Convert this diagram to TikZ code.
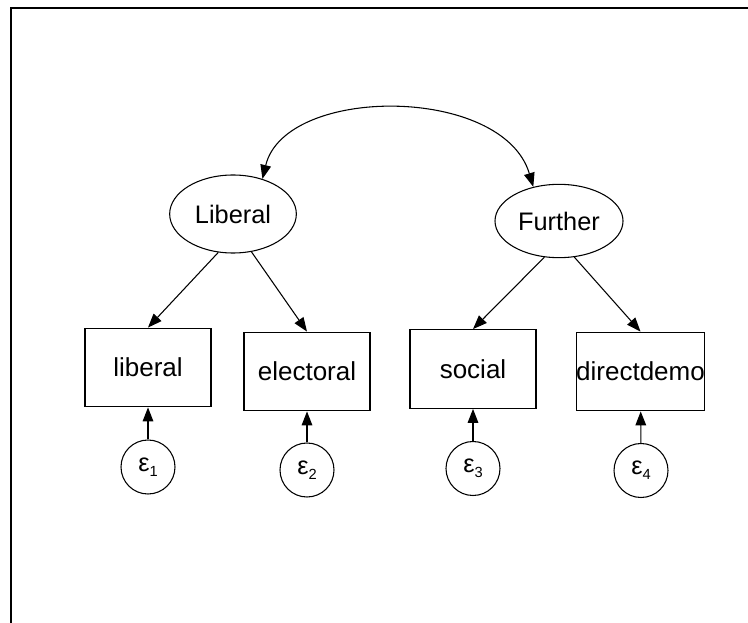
\documentclass[tikz,border=0pt]{standalone}
\usepackage{fontspec}
\setmainfont{Liberation Sans}
\usetikzlibrary{arrows.meta,shapes.geometric}

\tikzset{
  latent/.style={draw, ellipse, line width=0.8pt, inner sep=0pt,
    font=\fontsize{19}{21}\selectfont},
  observed/.style={draw, rectangle, line width=0.9pt, inner sep=0pt,
    minimum width=94.5pt, minimum height=59pt,
    font=\fontsize{19.5}{21}\selectfont},
  errterm/.style={draw, circle, line width=0.8pt, inner sep=0pt,
    minimum size=40.5pt, font=\fontsize{19}{19}\selectfont},
  path/.style={line width=0.8pt, -{Triangle[length=10.5pt,width=8pt]}},
  covpath/.style={line width=0.8pt,
    {Triangle[length=10.5pt,width=8pt]}-{Triangle[length=10.5pt,width=8pt]}},
  frameline/.style={line width=1.5pt}
}

\newcommand{\errlabel}[1]{ε\raisebox{-0.35ex}{\fontsize{11}{11}\selectfont #1}}

\begin{document}
\begin{tikzpicture}[x=0.75pt, y=-0.75pt]
  \useasboundingbox (0,0) rectangle (748,623);

  % frame: top and left edges
  \coordinate (frameTR) at (748,8);
  \coordinate (frameTL) at (11,8);
  \coordinate (frameBL) at (11,623);
  \draw[frameline] (frameTR) -- (frameTL) -- (frameBL);

  % latent variables
  \node[latent, minimum width=95pt, minimum height=58.5pt] (Liberal) at (233,214) {Liberal};
  \node[latent, minimum width=96pt, minimum height=55pt] (Further) at (559,221) {Further};

  % observed indicators
  \node[observed] (liberal) at (148,367.5) {liberal};
  \node[observed] (electoral) at (307,371.5) {electoral};
  \node[observed] (social) at (473,369) {social};
  \node[observed] (directdemo) at (640.5,371.5) {directdemo};

  % error terms
  \node[errterm] (e1) at (148,467) {\errlabel{1}};
  \node[errterm] (e2) at (307,470) {\errlabel{2}};
  \node[errterm] (e3) at (473,468.5) {\errlabel{3}};
  \node[errterm] (e4) at (641,470.5) {\errlabel{4}};

  % covariance between the latent variables
  \draw[covpath] (Liberal.50) .. controls (285,85) and (503,85) .. (Further.127);

  % loadings
  \draw[path] (Liberal.-111) -- (liberal.north);
  \draw[path] (Liberal.-64) -- (electoral.north);
  \draw[path] (Further.-112) -- (social.north);
  \draw[path] (Further.-67) -- (directdemo.north);

  % error paths
  \draw[path] (e1) -- (liberal);
  \draw[path] (e2) -- (electoral);
  \draw[path] (e3) -- (social);
  \draw[path] (e4) -- (directdemo);
\end{tikzpicture}
\end{document}
